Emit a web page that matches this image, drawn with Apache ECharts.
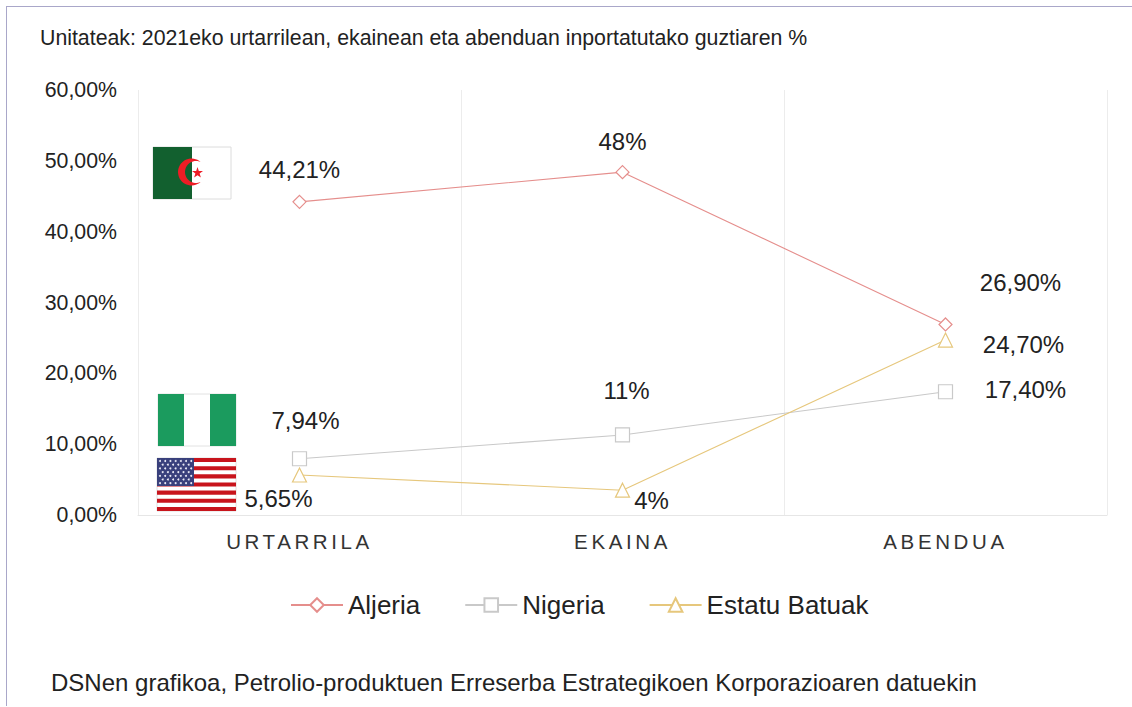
<!DOCTYPE html>
<html><head><meta charset="utf-8">
<style>
html,body{margin:0;padding:0;background:#fff}
#c{width:1132px;height:707px}
text[style*="20.5px"]{letter-spacing:3.6px}
</style>
<script src="https://cdn.jsdelivr.net/npm/echarts@6/dist/echarts.min.js"></script>
</head><body><div id="c"></div>
<script>
const categories = ['URTARRILA','EKAINA','ABENDUA'];
const yTickMax = 60, yTickStep = 10;
const aljeria = [44.21, 48.4, 26.9];
const nigeria = [7.94, 11.3, 17.4];
const estatuBatuak = [5.65, 3.5, 24.7];
const aljeriaLabels = ['44,21%','48%','26,90%'];
const nigeriaLabels = ['7,94%','11%','17,40%'];
const estatuBatuakLabels = ['5,65%','4%','24,70%'];
const titleText = 'Unitateak: 2021eko urtarrilean, ekainean eta abenduan inportatutako guztiaren %';
const footerText = 'DSNen grafikoa, Petrolio-produktuen Erreserba Estrategikoen Korporazioaren datuekin';

const font = '"Liberation Sans", Arial, sans-serif';
const textColor = '#222';
function series(name, values, labels, offsets, color, symbol, size){
  return {
    name, type:'line', symbol, symbolSize:size, showSymbol:true,
    lineStyle:{color, width:1.1}, itemStyle:{color:'#fff', borderColor:color, borderWidth:1.2},
    emphasis:{disabled:true}, animation:false, z:3,
    data: values.map((v,i)=>({value:v, label:{
      show:true, position:'inside', offset:offsets[i], formatter:labels[i],
      fontSize:24, fontFamily:font, color:textColor}}))
  };
}
const g = [];
function rect(x,y,w,h,fill,extra){g.push(Object.assign({type:'rect',silent:true,z:5,shape:{x,y,width:w,height:h},style:{fill}},extra||{}));}
rect(6,6,1126,1,'#a9a7c9'); rect(6,6,1,700,'#a9a7c9');
// Algeria
rect(153,147,78,52,'#ffffff',{style:{fill:'#fff',stroke:'#dcdcdc',lineWidth:1}});
rect(153,147,39,52,'#12602f');
const crescent = [];
for(let a=47.8;a<=312.2;a+=8){crescent.push([191.5+13.5*Math.cos(a*Math.PI/180),172+13.5*Math.sin(a*Math.PI/180)]);}
for(let a=294.5;a>=65.5;a-=8){crescent.push([196+11*Math.cos(a*Math.PI/180),172+11*Math.sin(a*Math.PI/180)]);}
g.push({type:'polygon',silent:true,z:6,shape:{points:crescent},style:{fill:'#ee1c25'}});
g.push({type:'polygon',silent:true,z:8,shape:{points:[[197.5,167],[198.8,171],[203,171],[199.6,173.6],[200.9,177.5],[197.5,175.2],[194.1,177.5],[195.4,173.6],[192,171],[196.2,171]]},style:{fill:'#ee1c25'}});
// Nigeria
rect(158,394,78,52,'#fff',{style:{fill:'#fff',stroke:'#e2e2e2',lineWidth:1}});
rect(158,394,26,52,'#1b9b5e');
rect(210,394,26,52,'#1b9b5e');
// USA
rect(157,458,79,53,'#fff',{style:{fill:'#fff',stroke:'#e0e0e0',lineWidth:1}});
for(let i=0;i<7;i++){ rect(157,458+i*8.15,79,4.08,'#c8141c'); }
rect(157,458,37,28,'#39407c');
for(let r=0;r<7;r++){ for(let c=0;c<(r%2?6:7);c++){
  g.push({type:'circle',silent:true,z:7,shape:{cx:160+(r%2?2.7:0)+c*5.2,cy:461+r*3.7,r:1},style:{fill:'#e8e8f4'}});
}}

const chart = echarts.init(document.getElementById('c'),null,{renderer:'svg',width:1132,height:707});
chart.setOption({
  backgroundColor:'#fff',
  animation:false,
  title:[
    {text:titleText,left:40,top:27,padding:0,textStyle:{fontSize:21.3,fontWeight:'normal',fontFamily:font,color:textColor}},
    {text:footerText,left:51,top:670,padding:0,textStyle:{fontSize:24,fontWeight:'normal',fontFamily:font,color:textColor}}
  ],
  grid:{left:138,right:25,top:90,bottom:192,containLabel:false},
  xAxis:{type:'category',data:categories,boundaryGap:true,
    axisLine:{show:true,lineStyle:{color:'#e6e6e6'}},axisTick:{show:false},
    splitLine:{show:true,lineStyle:{color:'#ececec',width:1}},
    axisLabel:{fontSize:20.5,fontFamily:font,color:'#333',margin:16}},
  yAxis:{type:'value',min:0,max:yTickMax,interval:yTickStep,
    axisLine:{show:false},axisTick:{show:false},splitLine:{show:false},
    axisLabel:{fontSize:21.3,fontFamily:font,color:textColor,margin:21,
      formatter:v=>v.toFixed(2).replace('.',',')+'%'}},
  legend:{left:290,top:592,padding:0,itemWidth:52,itemHeight:17,itemGap:44,
    textStyle:{fontSize:26,fontFamily:font,color:textColor},
    selectedMode:false,
    data:['Aljeria','Nigeria','Estatu Batuak']},
  series:[
    series('Aljeria',aljeria,aljeriaLabels,[[0,-32],[0,-31],[75,-42]],'#e58e8c','diamond',13),
    series('Nigeria',nigeria,nigeriaLabels,[[6,-38],[4,-44],[80,-2]],'#c9c9c9','rect',14),
    series('Estatu Batuak',estatuBatuak,estatuBatuakLabels,[[-21,24],[29,10],[78,4]],'#e6c77c','triangle',14)
  ],
  graphic:g
});
</script></body></html>
